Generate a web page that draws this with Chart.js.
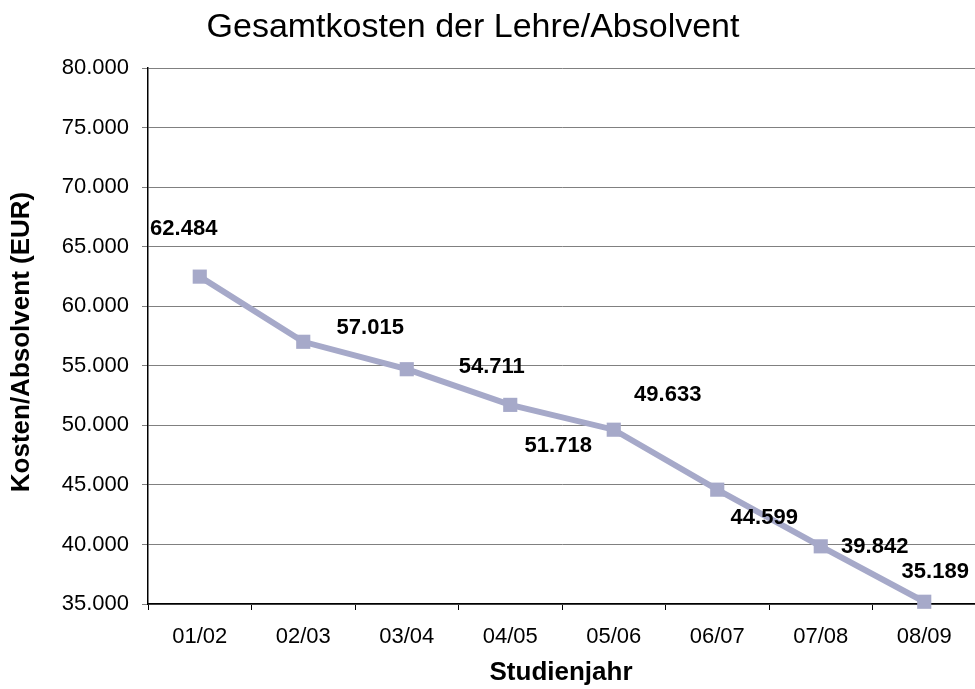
<!DOCTYPE html>
<html>
<head>
<meta charset="utf-8">
<script src="https://cdn.jsdelivr.net/npm/chart.js@4"></script>
<style>
  html, body { margin: 0; padding: 0; background: #fff; overflow: hidden; }
  #wrap { width: 975px; height: 689px; overflow: hidden; }
</style>
</head>
<body>
<div id="wrap"><canvas id="chart" width="986" height="689"></canvas></div>
<script>
// Daten aus der Vorlage
const years = ["01/02", "02/03", "03/04", "04/05", "05/06", "06/07", "07/08", "08/09"];
const costs = [62484, 57015, 54711, 51718, 49633, 44599, 39842, 35189];
const yTicks = [35000, 40000, 45000, 50000, 55000, 60000, 65000, 70000, 75000, 80000];

// Label-Versatz (px) relativ zum Punkt, wie in der Vorlage
const labelOffsets = [[-16, -48], [67, -14], [85, -2], [48, 41], [54, -35], [47, 28], [54, 1], [11, -30]];

const fmt = (v) => v.toLocaleString("de-DE");
const FONT = "'Liberation Sans', Arial, sans-serif";
const lineColor = "#A6A9C9";

// Titel, Achsentitel und Wertelabels selbst zeichnen
const textPlugin = {
  id: "texts",
  afterDatasetsDraw(chart) {
    const ctx = chart.ctx;
    ctx.save();
    ctx.fillStyle = "#000";
    ctx.textAlign = "center";
    ctx.textBaseline = "middle";

    ctx.font = "34px " + FONT;
    ctx.fillText("Gesamtkosten der Lehre/Absolvent", 473, 28);

    ctx.font = "bold 26px " + FONT;
    ctx.fillText("Studienjahr", 561, 673);

    ctx.save();
    ctx.translate(22, 342);
    ctx.rotate(-Math.PI / 2);
    ctx.fillText("Kosten/Absolvent (EUR)", 0, 0);
    ctx.restore();

    ctx.font = "bold 22px " + FONT;
    const meta = chart.getDatasetMeta(0);
    meta.data.forEach((pt, i) => {
      const off = labelOffsets[i];
      ctx.fillText(fmt(costs[i]), pt.x + off[0], pt.y + off[1]);
    });
    ctx.restore();
  },
};

// Canvas ist 11px breiter; der rechte Rand (Punkt-Überlauf) wird abgeschnitten
new Chart(document.getElementById("chart"), {
  type: "line",
  data: {
    labels: years,
    datasets: [
      {
        data: costs,
        borderColor: lineColor,
        backgroundColor: lineColor,
        borderWidth: 6,
        tension: 0,
        pointStyle: "rect",
        pointRadius: 10,
        pointHoverRadius: 10,
        pointBorderWidth: 0,
        clip: false,
      },
    ],
  },
  options: {
    responsive: false,
    animation: false,
    layout: { padding: { top: 68, right: 0, left: 0, bottom: 0 } },
    plugins: {
      legend: { display: false },
      tooltip: { enabled: false },
    },
    scales: {
      x: {
        offset: true,
        grid: {
          offset: true,
          drawOnChartArea: false,
          drawTicks: true,
          tickLength: 6,
          color: "#000",
        },
        border: { color: "#000", width: 1.5 },
        ticks: {
          color: "#000",
          font: { family: FONT, size: 22 },
          padding: 14,
          maxRotation: 0,
        },
        afterFit(scale) {
          scale.height = 85;
        },
      },
      y: {
        min: 35000,
        max: 80000,
        afterBuildTicks(scale) {
          scale.ticks = yTicks.map((v) => ({ value: v }));
        },
        grid: {
          color: "#808080",
          lineWidth: 1,
          tickLength: 6,
        },
        border: { color: "#000", width: 1.5 },
        ticks: {
          color: "#000",
          font: { family: FONT, size: 22 },
          padding: 13,
          callback: (v) => fmt(v),
        },
        afterFit(scale) {
          scale.width = 148;
        },
      },
    },
  },
  plugins: [textPlugin],
});
</script>
</body>
</html>
